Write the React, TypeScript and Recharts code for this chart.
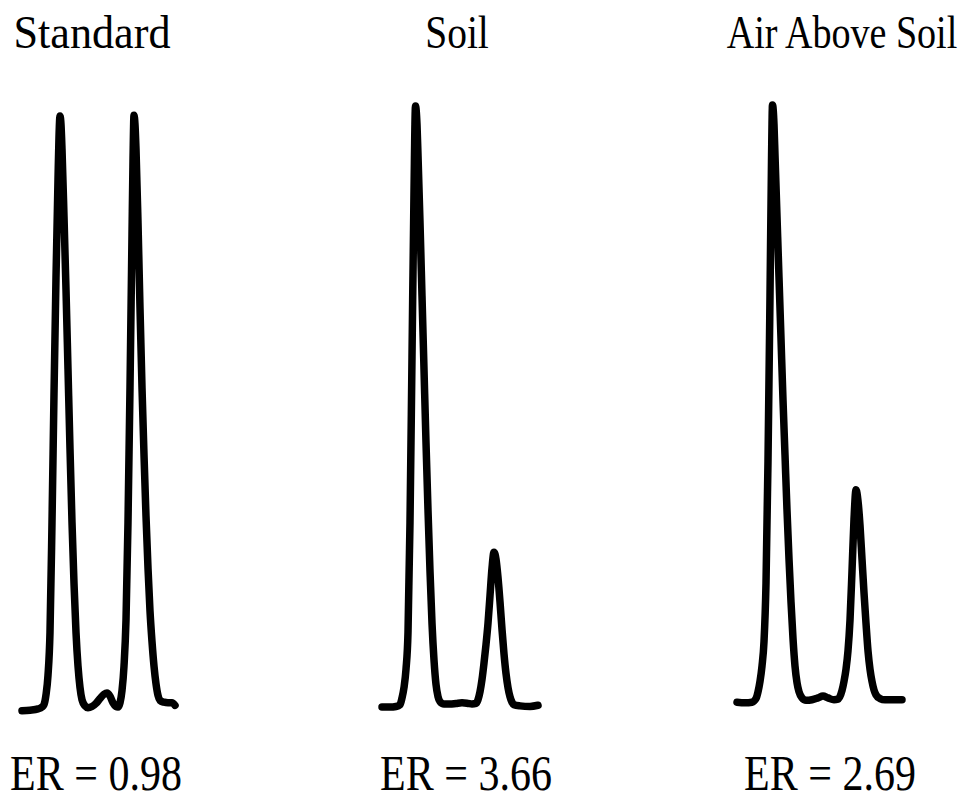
import React from "react";
import { LineChart, Line, XAxis, YAxis } from "recharts";

// Panel labels
const panelTitles = ["Standard", "Soil", "Air Above Soil"];
const enrichmentRatios = ["0.98", "3.66", "2.69"];

// Standard chromatogram (retention scan vs. detector signal, % of max)
const standardTime = [22, 30, 38, 42, 44, 46, 48, 50, 52, 54, 56, 58, 59, 60, 61, 62, 64, 66, 68, 70, 72, 74, 76, 78, 80, 82, 85, 88, 92, 96, 100, 104, 107, 110, 113, 116, 118, 120, 122, 124, 126, 128, 130, 132, 133, 134, 135, 136, 138, 140, 142, 144, 146, 148, 150, 152, 154, 156, 158, 160, 164, 168, 172, 175];
const standardSignal = [0.2, 0.3, 0.5, 0.8, 1.2, 2.8, 6, 13, 31, 52, 71, 87, 94, 97.4, 96, 92, 81, 69, 56, 43, 31, 21, 13, 7.5, 4, 2, 1.0, 0.7, 0.9, 1.4, 2.2, 2.9, 3.1, 2.6, 1.5, 0.9, 0.8, 1.5, 3.5, 7.5, 15, 31, 53, 78, 90, 97.5, 96, 92, 80, 66, 53, 42, 32, 23.5, 16.5, 11.5, 7.5, 4.6, 2.7, 1.9, 1.6, 1.5, 1.5, 1.1];

// Soil chromatogram
const soilTime = [22, 30, 36, 40, 42, 44, 46, 48, 50, 52, 54, 55.5, 57, 58, 60, 62, 64, 66, 68, 70, 72, 74, 76, 78, 80, 84, 90, 96, 102, 108, 112, 116, 118, 120, 122, 124, 126, 128, 130, 132, 134, 136, 138, 140, 142, 144, 146, 148, 150, 152, 154, 160, 170, 178];
const soilSignal = [0.8, 0.8, 0.9, 1.2, 2.3, 4, 7, 13, 31, 58, 85, 99, 96, 91, 80, 68, 56, 44, 33, 23, 14.5, 8.5, 4.5, 2.5, 1.7, 1.3, 1.3, 1.4, 1.5, 1.4, 1.3, 1.4, 2, 3.3, 5.3, 8, 11, 14.5, 19, 23.5, 26.1, 25, 22, 18, 13.5, 9.5, 6.3, 4, 2.5, 1.6, 1.2, 1.0, 0.9, 1.1];

// Air above soil chromatogram
const airTime = [17, 25, 32, 36, 38, 40, 42, 44, 46, 48, 50, 51.5, 52.5, 54, 55, 57, 59, 61, 63, 65, 67, 69, 71, 73, 75, 77, 79, 82, 86, 92, 98, 103, 108, 114, 118, 122, 124, 126, 128, 130, 132, 134, 136, 138, 140, 142, 144, 146, 148, 150, 152, 154, 156, 160, 165, 172, 182];
const airSignal = [1.6, 1.5, 1.6, 2.2, 3.3, 5, 7.5, 11.5, 21, 41, 68, 90, 99.2, 96, 91, 81, 71, 61, 51, 42, 33, 25, 18, 12, 7.5, 4.8, 3.3, 2.3, 1.9, 2.0, 2.3, 2.6, 2.3, 2.0, 2.1, 3.5, 5, 7, 10, 15, 23, 31.5, 36.3, 34.5, 30.5, 25, 19.5, 14.5, 10, 7, 5, 3.6, 2.8, 2.2, 2.0, 2.0, 2.0];

const panels = [
  { time: standardTime, signal: standardSignal, left: 0, titleX: 92, erX: 96, titleScale: 0.94 },
  { time: soilTime, signal: soilSignal, left: 360, titleX: 457, erX: 466, titleScale: 0.84 },
  { time: airTime, signal: airSignal, left: 720, titleX: 842, erX: 830, titleScale: 0.81 },
];

const FONT = "'Liberation Serif', 'Times New Roman', serif";

export default function App() {
  return (
    <div style={{ position: "absolute", left: 0, top: 0, width: 967, height: 800, background: "#fff" }}>
      {panels.map((p, i) => {
        const data = p.time.map((t, j) => ({ t, v: p.signal[j] }));
        return (
          <div key={i} style={{ position: "absolute", left: p.left, top: 0 }}>
            <LineChart width={200} height={800} data={data} margin={{ top: 100, right: 0, bottom: 88, left: 0 }}>
              <XAxis dataKey="t" type="number" domain={[0, 200]} hide />
              <YAxis type="number" domain={[0, 100]} hide />
              <Line
                type="monotone"
                dataKey="v"
                stroke="#000"
                strokeWidth={7.5}
                strokeLinejoin="round"
                strokeLinecap="round"
                dot={false}
                activeDot={false}
                isAnimationActive={false}
              />
            </LineChart>
          </div>
        );
      })}
      <svg width={967} height={800} style={{ position: "absolute", left: 0, top: 0, pointerEvents: "none" }}>
        {panels.map((p, i) => (
          <g key={i}>
            <text
              transform={`translate(${p.titleX},48) scale(${p.titleScale},1)`}
              textAnchor="middle"
              fontFamily={FONT}
              fontSize={47}
              fill="#000"
            >
              {panelTitles[i]}
            </text>
            <text
              transform={`translate(${p.erX},790) scale(0.84,1)`}
              textAnchor="middle"
              fontFamily={FONT}
              fontSize={50}
              fill="#000"
            >
              {`ER = ${enrichmentRatios[i]}`}
            </text>
          </g>
        ))}
      </svg>
    </div>
  );
}
